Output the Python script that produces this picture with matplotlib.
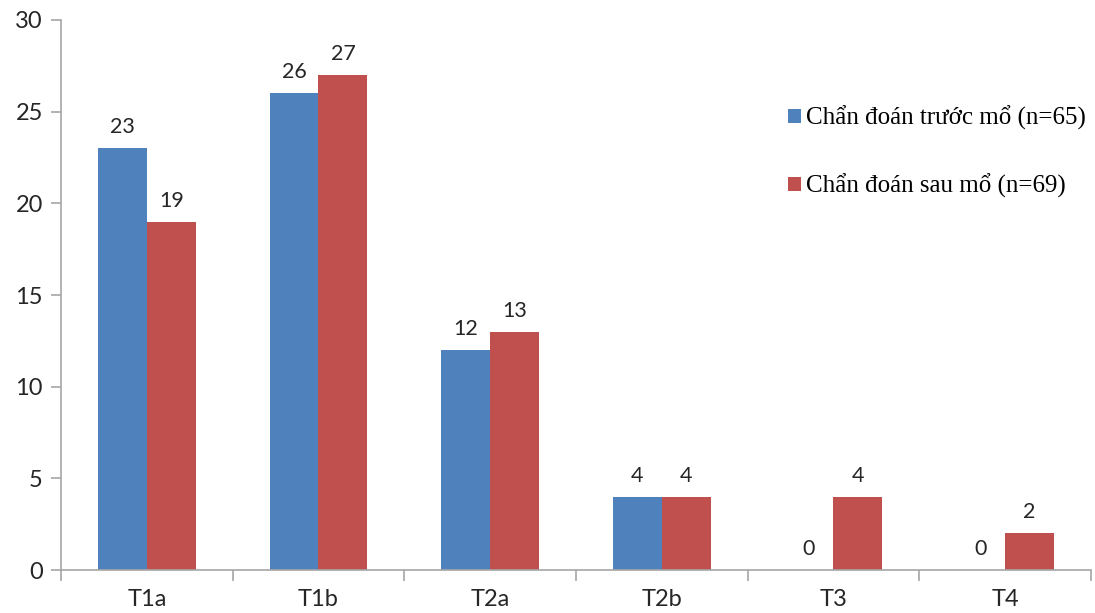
import matplotlib.pyplot as plt
import numpy as np

# Số liệu
categories = ['T1a', 'T1b', 'T2a', 'T2b', 'T3', 'T4']
truoc_mo = [23, 26, 12, 4, 0, 0]
sau_mo = [19, 27, 13, 4, 4, 2]
labels = ['Chẩn đoán trước mổ (n=65)', 'Chẩn đoán sau mổ (n=69)']

blue = '#4F81BD'
red = '#C0504D'
axis_col = '#A6A6A6'

fig = plt.figure(figsize=(10.95, 6.13), dpi=100)
ax = fig.add_axes([0.0557, 0.0701, 0.9406, 0.8973])

x = np.arange(len(categories))
w = 0.285
b1 = ax.bar(x - w / 2, truoc_mo, w, color=blue, label=labels[0])
b2 = ax.bar(x + w / 2, sau_mo, w, color=red, label=labels[1])

# Nhãn giá trị
for bars in (b1, b2):
    for r in bars:
        h = r.get_height()
        ax.annotate(f'{h:g}', (r.get_x() + r.get_width() / 2, h),
                    xytext=(0, 8), textcoords='offset points',
                    ha='center', va='bottom', fontsize=15.5,
                    family='Lato', color='#262626')

ax.set_xlim(-0.5, len(categories) - 0.5)
ax.set_ylim(0, 30)
ax.set_yticks(range(0, 31, 5))
ax.set_xticks(x)
ax.set_xticklabels(categories)
ax.set_xticks(np.arange(-0.5, len(categories)), minor=True)

for s in ('top', 'right'):
    ax.spines[s].set_visible(False)
for s in ('left', 'bottom'):
    ax.spines[s].set_color(axis_col)
    ax.spines[s].set_linewidth(1.2)

ax.tick_params(axis='y', colors=axis_col, length=7, width=1.2,
               labelcolor='#262626', labelsize=17, pad=6)
ax.tick_params(axis='x', which='major', length=0, labelcolor='#262626',
               labelsize=17, pad=14)
ax.tick_params(axis='x', which='minor', length=8, width=1.2, color=axis_col)
for t in ax.get_xticklabels() + ax.get_yticklabels():
    t.set_family('Lato')

ax.legend(loc='upper left', bbox_to_anchor=(0.684, 0.885), frameon=False,
          prop={'family': 'Liberation Serif', 'size': 18},
          handlelength=0.52, handleheight=0.52, handletextpad=0.22,
          labelspacing=1.75, borderpad=0.4)

fig.savefig('out.png', dpi=100)
